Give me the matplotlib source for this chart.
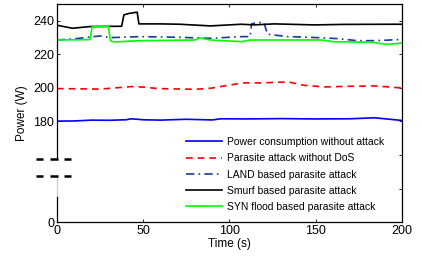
import matplotlib
matplotlib.use("Agg")
import matplotlib.pyplot as plt
import numpy as np

plt.rcParams['font.family'] = ['Liberation Sans', 'DejaVu Sans']

# series data (time s, power W)
t_normal = [0, 10, 20, 30, 40, 43, 50, 60, 75, 90, 95, 110, 130, 150, 170, 184, 190, 200]
p_normal = [180.2, 180.3, 180.8, 180.7, 181.0, 181.6, 181.0, 180.8, 181.3, 180.9, 181.6, 181.5, 181.7, 181.5, 181.6, 182.2, 181.6, 180.6]

t_parasite = [0, 10, 25, 43, 50, 59, 80, 89, 97, 108, 118, 134, 143, 155, 170, 184, 200]
p_parasite = [199.6, 199.5, 199.3, 200.8, 200.5, 199.6, 199.2, 199.8, 201.2, 203.0, 203.0, 203.6, 201.6, 200.6, 201.0, 201.2, 200.0]

t_land = [0, 11, 21, 25, 31, 48, 71, 89, 107, 112, 112.8, 116, 120, 122, 134, 147, 163, 174, 185, 197, 200]
p_land = [228.6, 229.4, 230.6, 231.0, 230.0, 230.6, 230.2, 229.6, 230.6, 230.6, 238.2, 239.0, 239.0, 232.0, 230.6, 230.2, 229.4, 228.2, 228.2, 228.8, 228.8]

t_smurf = [0, 1, 9, 19, 37.5, 38.8, 42, 46.5, 47.5, 60, 71, 89, 107, 114, 126, 149, 166, 200]
p_smurf = [237.4, 237.2, 235.6, 236.6, 236.8, 243.6, 244.5, 245.2, 238.2, 238.2, 238.0, 237.0, 238.0, 237.6, 238.2, 237.6, 237.9, 238.0]

t_syn = [0, 19, 20.5, 29.8, 31, 33, 48, 80, 83, 89, 107, 112, 154, 160, 183, 191, 200]
p_syn = [228.6, 228.8, 236.6, 236.6, 228.2, 227.4, 228.2, 228.6, 229.8, 228.6, 227.6, 228.6, 228.6, 227.6, 227.2, 226.0, 226.8]

labels = ['Power consumption without attack', 'Parasite attack without DoS',
          'LAND based parasite attack', 'Smurf based parasite attack',
          'SYN flood based parasite attack']

fig = plt.figure(figsize=(4.22, 2.57), dpi=100)
ax = fig.add_axes([0.135, 0.136, 0.8175, 0.848])

ax.plot(t_normal, p_normal, color='#0000ff', lw=1.2, label=labels[0])
ax.plot(t_parasite, p_parasite, color='#ff0000', lw=1.2, ls=(0, (4, 3)), label=labels[1])
ax.plot(t_land, p_land, color='#1a3a9a', lw=1.2, ls=(0, (5, 2.5, 1, 2.5)), label=labels[2])
ax.plot(t_smurf, p_smurf, color='black', lw=1.2, label=labels[3])
ax.plot(t_syn, p_syn, color='#00ff00', lw=1.2, label=labels[4])

ax.set_xlim(0, 200)
ax.set_ylim(120, 250)
ax.set_xticks([0, 50, 100, 150, 200])
ax.set_yticks([120, 140, 160, 180, 200, 220, 240])
ax.set_yticklabels(['0', '', '', '180', '200', '220', '240'])
ax.tick_params(direction='in', length=2.5, width=0.6, top=True, right=True,
               labelsize=9, pad=2)
for i in (1, 2):
    ax.yaxis.get_major_ticks()[i].tick1line.set_visible(False)

ax.set_xlabel('Time (s)', fontsize=8.5, labelpad=1)
ax.set_ylabel('Power (W)', fontsize=8.5, labelpad=4)

# broken y axis
ax.spines['left'].set_visible(False)
for s in ('top', 'right', 'bottom'):
    ax.spines[s].set_linewidth(0.9)
tr = ax.get_yaxis_transform()
ax.plot([0, 0], [157.8, 250], color='black', lw=0.9, transform=tr, clip_on=False)
ax.plot([0, 0], [135, 147.6], color='#cccccc', lw=0.9, transform=tr, clip_on=False)
ax.plot([0, 0], [120, 135], color='black', lw=0.9, transform=tr, clip_on=False)
for yb in (157.8, 147.6):
    for x0, x1 in ((-0.061, -0.041), (-0.020, 0.003), (0.020, 0.041)):
        ax.plot([x0, x1], [yb, yb], color='black', lw=1.8, transform=tr,
                clip_on=False, solid_capstyle='butt')

ax.legend(loc='upper left', frameon=False, fontsize=7.5, handlelength=3.45,
          handletextpad=0.45, labelspacing=0.6, borderaxespad=0, borderpad=0,
          bbox_to_anchor=(0.374, 0.39))

fig.savefig('out.png', dpi=100)
